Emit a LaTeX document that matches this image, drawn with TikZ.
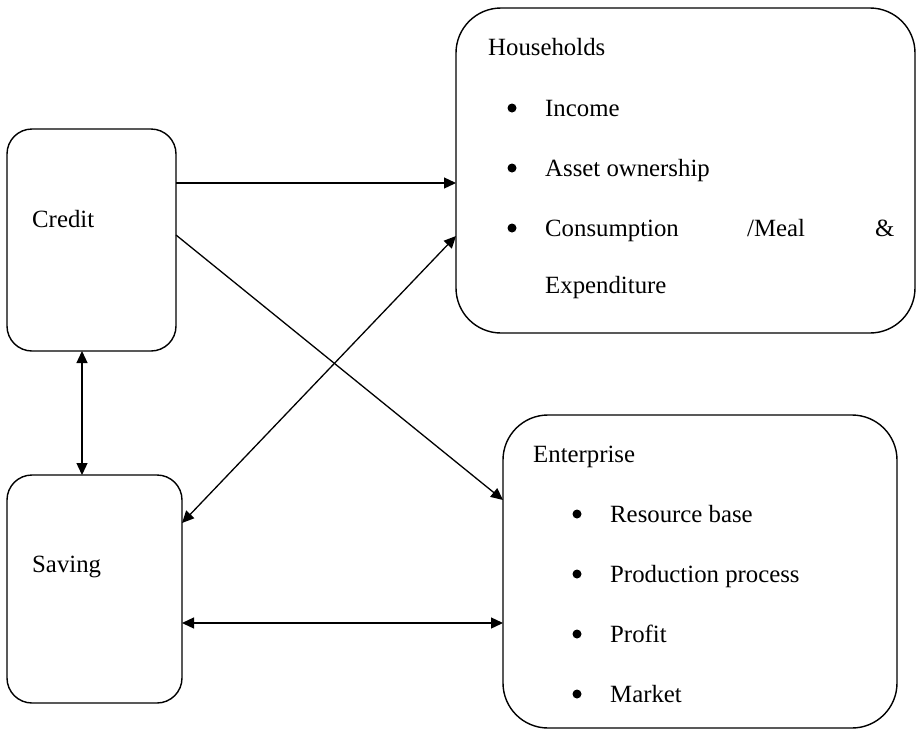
\documentclass[tikz,border=0pt]{standalone}
\usepackage{fontspec}
\setmainfont{Liberation Serif}
\usetikzlibrary{arrows.meta}
\begin{document}
\begin{tikzpicture}[x=1pt,y=-1pt,
  box/.style={draw=black,line width=1.4pt,inner sep=0pt,outer sep=0pt},
  txt/.style={anchor=base west,inner sep=0pt,font=\fontsize{24.8}{30}\selectfont},
  bul/.style={circle,fill=black,inner sep=0pt,minimum size=9pt},
  conn/.style={line width=1.3pt,{Triangle[length=12pt,width=11pt]}-{Triangle[length=12pt,width=11pt]}},
  oneway/.style={line width=1.3pt,-{Triangle[length=12pt,width=11pt]}}]
\useasboundingbox (0,0) rectangle (916,729);
\node[box,rounded corners=25pt,minimum width=169pt,minimum height=222pt] (credit) at (91.5,240) {};
\node[box,rounded corners=25pt,minimum width=175pt,minimum height=228pt] (saving) at (94.5,589) {};
\node[box,rounded corners=45pt,minimum width=459pt,minimum height=325pt] (households) at (685.5,170.5) {};
\node[box,rounded corners=45pt,minimum width=394pt,minimum height=313pt] (enterprise) at (700,571.5) {};
% texts
\node[txt] (tcredit) at (32,227) {Credit};
\node[txt] (tsaving) at (32,572) {Saving};
\node[txt] (thh) at (488,55) {Households};
\node[bul] (b1) at (512,108) {};
\node[txt] (h1) at (545,116) {Income};
\node[bul] (b2) at (512,168) {};
\node[txt] (h2) at (545,176) {Asset ownership};
\node[bul] (b3) at (512,228) {};
\node[txt] (h3) at (545,236) {Consumption};
\node[txt] (h3b) at (747,236) {/Meal};
\node[txt] (h3c) at (875,236) {\&};
\node[txt] (h4) at (545,293) {Expenditure};
\node[txt] (tent) at (533,462) {Enterprise};
\node[bul] (e1b) at (577,514) {};
\node[txt] (e1) at (610,522) {Resource base};
\node[bul] (e2b) at (577,574) {};
\node[txt] (e2) at (610,582) {Production process};
\node[bul] (e3b) at (577,634) {};
\node[txt] (e3) at (610,642) {Profit};
\node[bul] (e4b) at (577,694) {};
\node[txt] (e4) at (610,702) {Market};
% connectors
\draw[oneway] (credit.east |- 0,183) -- (households.west |- 0,183);
\draw[oneway] (credit.east |- 0,235) -- (enterprise.west |- 0,500);
\draw[conn] (saving.east |- 0,523) -- (households.west |- 0,236);
\draw[conn] (credit.south -| 82,0) -- (saving.north -| 82,0);
\draw[conn] (saving.east |- 0,623) -- (enterprise.west |- 0,623);
\end{tikzpicture}
\end{document}
